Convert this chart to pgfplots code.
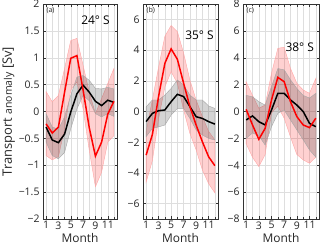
\documentclass[border=0pt]{standalone}
\usepackage{pgfplots}
\pgfplotsset{compat=1.18}
\usepackage{pgfplotstable}
\usepackage{fontspec}
\setmainfont{Open Sans}

% panel a: lines
\pgfplotstableread{
m r k
1 -0.23 -0.29
2 -0.40 -0.53
3 -0.29 -0.58
4 0.36 -0.42
5 0.99 -0.01
6 1.04 0.33
7 0.40 0.49
8 -0.30 0.36
9 -0.83 0.19
10 -0.57 0.11
11 -0.05 0.21
12 0.19 0.17
}\ta
% panel a: bands (upper 1..12 then lower 12..1)
\pgfplotstableread{
m rb kb
1 0.37 -0.04
2 0.18 -0.29
3 0.30 -0.33
4 0.80 -0.10
5 1.32 0.30
6 1.36 0.64
7 0.86 0.67
8 0.36 0.58
9 -0.04 0.43
10 0.24 0.42
11 0.52 0.45
12 0.80 0.42
12 -0.45 -0.09
11 -0.57 -0.04
10 -1.13 -0.10
9 -1.40 -0.04
8 -0.72 0.20
7 0.05 0.30
6 0.55 0.05
5 0.40 -0.32
4 -0.32 -0.76
3 -0.84 -0.88
2 -0.90 -0.82
1 -0.82 -0.57
}\tab

\pgfplotstableread{
m r k
1 -2.84 -0.66
2 -1.5 -0.12
3 1.0 0.05
4 3.14 0.10
5 4.08 0.64
6 3.4 1.12
7 1.84 0.97
8 0.32 0.32
9 -0.88 -0.34
10 -1.97 -0.45
11 -2.95 -0.66
12 -3.53 -0.82
}\tb
\pgfplotstableread{
m rb kb
1 -1.3 0.3
2 0.75 0.75
3 2.9 0.75
4 4.9 1.07
5 5.6 1.5
6 5.2 2.05
7 3.8 1.73
8 2.05 1.07
9 0.75 0.75
10 -0.34 0.75
11 -1.3 0.36
12 -1.85 0.2
12 -5.3 -1.86
11 -4.7 -1.75
10 -3.8 -1.53
9 -2.5 -1.2
8 -1.42 -0.45
7 0.1 0.2
6 1.84 0.2
5 2.6 -0.23
4 1.6 -0.88
3 -0.45 -1.0
2 -3.2 -1.1
1 -4.6 -1.64
}\tbb

\pgfplotstableread{
m r k
1 0.16 -0.63
2 -1.0 -0.33
3 -2.07 -0.76
4 -1.25 -1.0
5 0.86 0.11
6 2.54 1.35
7 2.22 1.35
8 0.73 0.86
9 -0.38 0.48
10 -1.0 0.0
11 -1.2 -0.88
12 -0.5 -1.13
}\tc
\pgfplotstableread{
m rb kb
1 2.2 1.2
2 1.2 1.1
3 0.24 0.73
4 0.48 0.48
5 2.84 1.85
6 4.7 3.2
7 4.78 3.1
8 3.2 2.36
9 2.1 1.72
10 1.6 1.2
11 1.35 1.0
12 2.47 1.35
12 -3.4 -3.4
11 -3.85 -2.86
10 -3.6 -2.1
9 -3.2 -1.37
8 -1.9 -0.63
7 -0.5 0.11
6 0.4 -0.14
5 -0.1 -1.13
4 -3.2 -2.5
3 -4.1 -1.8
2 -3.4 -1.6
1 -2.4 -2.0
}\tcb

\pgfplotsset{
  panel/.style={
    scale only axis, height=215bp, anchor=south west,
    xmin=0.5, xmax=12.5, xtick={1,3,5,7,9,11}, minor xtick={2,4,...,12},
    xmajorgrids, xminorgrids, ymajorgrids,
    major grid style={draw=black!13, line width=0.4pt},
    minor grid style={draw=black!13, line width=0.4pt},
    tick align=inside, major tick length=2.5bp, minor tick length=1.5bp,
    axis line style={black!80, line width=0.6pt},
    tick style={black!80, line width=0.5pt},
    ticklabel style={font=\fontsize{10.5}{11}\selectfont, text=black!85},
    xlabel={Month}, xlabel style={font=\fontsize{12}{12}\selectfont, text=black!85, yshift=3bp},
    /pgf/number format/assume math mode=true,
    xticklabel style={yshift=1bp},
  },
}

\newcommand{\panelplots}[2]{%
  \addplot[draw=red!35, line width=0.4pt, fill=red, fill opacity=0.18] table[x=m,y=rb]{#2} -- cycle;
  \addplot[draw=black!35, line width=0.4pt, fill=black, fill opacity=0.17] table[x=m,y=kb]{#2} -- cycle;
  \addplot[black, line width=1.5bp] table[x=m,y=k]{#1};
  \addplot[red, line width=1.5bp] table[x=m,y=r]{#1};
}

\begin{document}
\begin{tikzpicture}
\useasboundingbox (0,0) rectangle (320bp,248bp);

\begin{axis}[panel, at={(43bp,29bp)}, width=74bp,
  ymin=-2, ymax=2, ytick={-2,-1.5,...,2},
  yticklabels={−2,−1.5,−1,−0.5,0,0.5,1,1.5,2},
  ylabel={\fontsize{13}{13}\selectfont Transport {\fontsize{10.5}{10.5}\selectfont anomaly} [Sv]},
  ylabel style={text=black!85, yshift=-3bp}]
\panelplots{\ta}{\tab}
\node[anchor=north west, font=\fontsize{7}{7}\selectfont, text=black!85] at (rel axis cs:0.0,1) {(a)};
\node[anchor=east, font=\fontsize{12}{12}\selectfont] at (rel axis cs:0.95,0.926) {24° S};
\end{axis}

\begin{axis}[panel, at={(143bp,29bp)}, width=75bp,
  ymin=-7, ymax=7, ytick={-6,-4,...,6},
  yticklabels={−6,−4,−2,0,2,4,6}]
\panelplots{\tb}{\tbb}
\node[anchor=north west, font=\fontsize{7}{7}\selectfont, text=black!85] at (rel axis cs:0.0,1) {(b)};
\node[anchor=east, font=\fontsize{12}{12}\selectfont] at (rel axis cs:0.99,0.853) {35° S};
\end{axis}

\begin{axis}[panel, at={(243bp,29bp)}, width=76bp,
  ymin=-8, ymax=8, ytick={-8,-6,...,8},
  yticklabels={−8,−6,−4,−2,0,2,4,6,8}]
\panelplots{\tc}{\tcb}
\node[anchor=north west, font=\fontsize{7}{7}\selectfont, text=black!85] at (rel axis cs:0.0,1) {(c)};
\node[anchor=east, font=\fontsize{12}{12}\selectfont] at (rel axis cs:0.98,0.798) {38° S};
\end{axis}
\end{tikzpicture}
\end{document}
